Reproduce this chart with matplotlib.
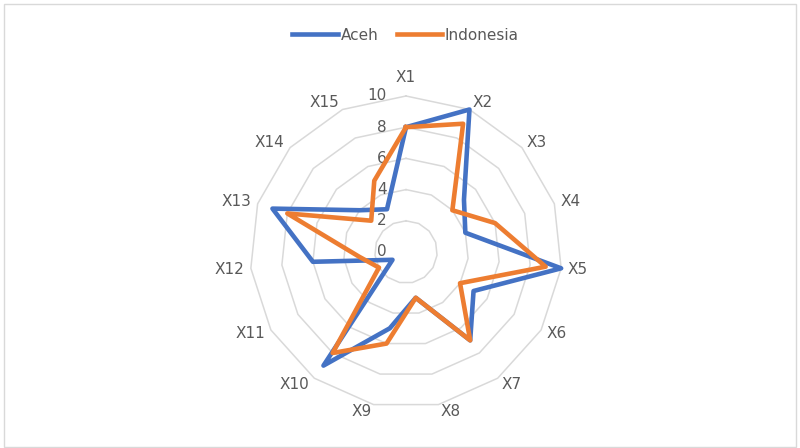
import numpy as np
import matplotlib
matplotlib.use("Agg")
import matplotlib.pyplot as plt
from matplotlib.lines import Line2D
from matplotlib.patches import Rectangle

# indicator scores, X1..X15
categories = ['X1', 'X2', 'X3', 'X4', 'X5', 'X6', 'X7', 'X8', 'X9', 'X10',
              'X11', 'X12', 'X13', 'X14', 'X15']
aceh = [8, 10, 5, 4, 10, 5, 7, 3, 5, 9, 1, 6, 9, 4, 3]
indonesia = [8, 9, 4, 6, 9, 4, 7, 3, 6, 8, 2, 3, 8, 3, 5]
ring_levels = [0, 2, 4, 6, 8, 10]

BLUE = '#4472C4'
ORANGE = '#ED7D31'
GRID = '#D9D9D9'
TXT = '#595959'

plt.rcParams['font.family'] = ['DejaVu Sans']
plt.rcParams['font.size'] = 11

W, H = 800, 448
fig = plt.figure(figsize=(W / 100, H / 100), dpi=100)

# chart area border
fig.patches.append(Rectangle((4 / W, 1.5 / H), 792 / W, 442 / H,
                             transform=fig.transFigure, fill=False,
                             edgecolor=GRID, lw=1.0))

cx, cy, R = 406, 252, 156
ax = fig.add_axes([(cx - R) / W, (H - cy - R) / H, 2 * R / W, 2 * R / H],
                  projection='polar')
ax.set_theta_zero_location('N')
ax.set_theta_direction(-1)
ax.set_ylim(0, 10)
ax.grid(False)
ax.spines['polar'].set_visible(False)
ax.set_xticks([])
ax.set_yticks([])
ax.patch.set_alpha(0)

n = len(categories)
theta = np.linspace(0, 2 * np.pi, n, endpoint=False)
theta_c = np.append(theta, theta[0])

# polygon rings
for lv in ring_levels[1:]:
    ax.plot(theta_c, np.full(n + 1, lv), color=GRID, lw=1.1, clip_on=False,
            zorder=1)

# series
for vals, col in [(aceh, BLUE), (indonesia, ORANGE)]:
    v = np.append(vals, vals[0])
    ax.plot(theta_c, v, color=col, lw=3.3, solid_joinstyle='round',
            clip_on=False, zorder=3)

# value axis labels
for lv in ring_levels:
    ax.annotate(str(lv), xy=(0, lv), xytext=(-19, 0),
                textcoords='offset pixels', ha='right', va='center',
                color=TXT, fontsize=11, zorder=2)

# category labels: pushed sideways by half their width, a little vertically
for t, lbl in zip(theta, categories):
    s, c = np.sin(t), np.cos(t)
    if abs(s) < 0.01:
        dx, dy = 0, 19 * np.sign(c)
    else:
        dx = np.sign(s) * (5.5 * len(lbl) + 5 * abs(s))
        dy = 7.5 * c
    ax.annotate(lbl, xy=(t, 10), xytext=(dx, dy),
                textcoords='offset pixels', ha='center', va='center',
                color=TXT, fontsize=11, annotation_clip=False)

handles = [Line2D([], [], color=BLUE, lw=3.3),
           Line2D([], [], color=ORANGE, lw=3.3)]
fig.legend(handles, ['Aceh', 'Indonesia'], loc='center',
           bbox_to_anchor=(405.5 / W, 1 - 35 / H), ncol=2, frameon=False,
           handlelength=3.0, handletextpad=0.15, columnspacing=1.2,
           fontsize=11, labelcolor=TXT)

fig.savefig('out.png', dpi=100)
